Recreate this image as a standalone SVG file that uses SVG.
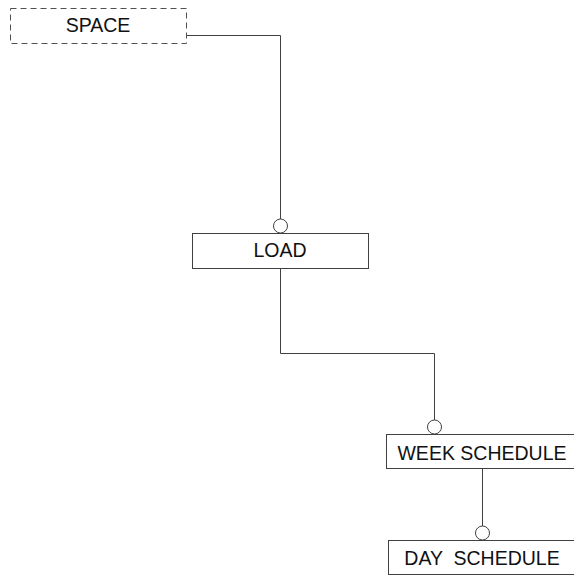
<svg xmlns="http://www.w3.org/2000/svg" width="574" height="575" viewBox="0 0 574 575">
  <style>
    .box { fill: #ffffff; stroke: #404040; stroke-width: 1; }
    .ghost { fill: #ffffff; stroke: #505050; stroke-width: 1; stroke-dasharray: 6 4; }
    .label { font-family: "Liberation Sans", Arial, sans-serif; font-size: 19.5px; fill: #111111; text-anchor: middle; white-space: pre; }
    .link { fill: none; stroke: #404040; stroke-width: 1; }
    .ring { fill: #ffffff; stroke: #404040; stroke-width: 1; }
  </style>
  <rect width="574" height="575" fill="#ffffff"/>

  <g id="connectors">
    <polyline class="link" points="186.5,35.5 280.5,35.5 280.5,219"/>
    <circle class="ring" cx="280.5" cy="226" r="7"/>
    <polyline class="link" points="280.5,268 280.5,353.5 434.5,353.5 434.5,420"/>
    <circle class="ring" cx="434.5" cy="427" r="7"/>
    <line class="link" x1="482.5" y1="469" x2="482.5" y2="526"/>
    <circle class="ring" cx="482.5" cy="533" r="7"/>
  </g>

  <g id="space">
    <rect class="ghost" x="10.5" y="8.5" width="176" height="35"/>
    <text class="label" x="98" y="32">SPACE</text>
  </g>

  <g id="load">
    <rect class="box" x="192.5" y="233.5" width="176" height="35"/>
    <text class="label" x="280" y="257">LOAD</text>
  </g>

  <g id="week-schedule">
    <rect class="box" x="386.5" y="434.5" width="192" height="34"/>
    <text class="label" x="482" y="460">WEEK SCHEDULE</text>
  </g>

  <g id="day-schedule">
    <rect class="box" x="388.5" y="540.5" width="190" height="34"/>
    <text class="label" x="482" y="565">DAY  SCHEDULE</text>
  </g>
</svg>
